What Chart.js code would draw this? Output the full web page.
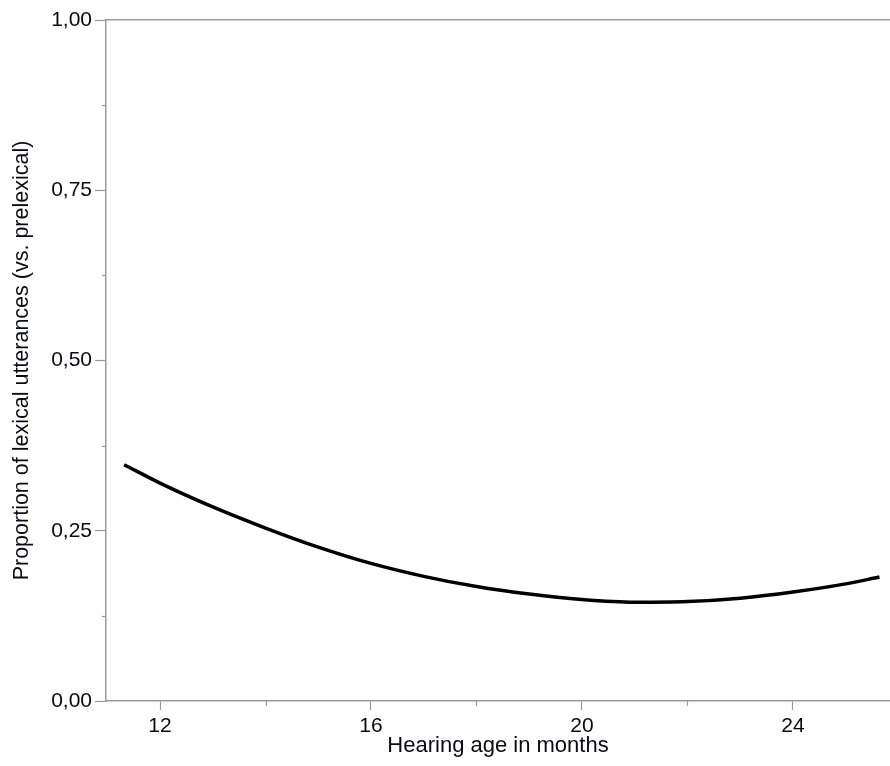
<!DOCTYPE html>
<html><head><meta charset="utf-8">
<script src="https://cdn.jsdelivr.net/npm/chart.js@4"></script>
<style>html,body{margin:0;padding:0;background:#fff}canvas{display:block}</style>
</head><body>
<canvas id="c" width="890" height="766"></canvas>
<script>
// Data
const ages = [11.32, 12, 13, 14, 15, 16, 17, 18, 19, 20, 21, 22, 23, 24, 25, 25.64];
const proportions = [0.347, 0.320, 0.285, 0.254, 0.226, 0.202, 0.183, 0.168, 0.157, 0.149, 0.145, 0.146, 0.151, 0.160, 0.172, 0.182];
const xTickValues = [12, 16, 20, 24];
const xMinorTickValues = [14, 18, 22];
const yTickValues = [0, 0.25, 0.5, 0.75, 1];
const yMinorTickValues = [0.125, 0.375, 0.625, 0.875];
const xTitle = 'Hearing age in months';
const yTitle = 'Proportion of lexical utterances (vs. prelexical)';

const AXIS = '#9a9a9a';
const TEXT = '#0a0a14';
const FONT = 'Liberation Sans, Arial, Helvetica, sans-serif';

const minorTicks = {
  id: 'minorTicks',
  afterDraw(chart) {
    const ctx = chart.ctx, x = chart.scales.x, y = chart.scales.y;
    ctx.save();
    ctx.strokeStyle = AXIS;
    ctx.lineWidth = 1.2;
    xMinorTickValues.forEach(v => {
      const px = Math.round(x.getPixelForValue(v)) + 0.5;
      ctx.beginPath(); ctx.moveTo(px, x.top); ctx.lineTo(px, x.top + 5); ctx.stroke();
    });
    yMinorTickValues.forEach(v => {
      const py = Math.round(y.getPixelForValue(v)) + 0.5;
      ctx.beginPath(); ctx.moveTo(y.right - 4, py); ctx.lineTo(y.right, py); ctx.stroke();
    });
    ctx.restore();
  }
};

new Chart(document.getElementById('c'), {
  type: 'line',
  data: {
    datasets: [{
      data: ages.map((a, i) => ({ x: a, y: proportions[i] })),
      borderColor: '#000',
      borderWidth: 3.5,
      pointRadius: 0,
      tension: 0.4,
      cubicInterpolationMode: 'monotone',
      fill: false
    }]
  },
  options: {
    responsive: false,
    animation: false,
    layout: { padding: 0 },
    plugins: { legend: { display: false }, tooltip: { enabled: false } },
    scales: {
      x: {
        type: 'linear', position: 'bottom', min: 10.976, max: 25.84,
        afterBuildTicks: s => { s.ticks = xTickValues.map(v => ({ value: v })); },
        afterFit: s => { s.height = 65; },
        ticks: { font: { family: FONT, size: 21 }, color: TEXT, maxRotation: 0, padding: 4 },
        grid: { drawOnChartArea: false, drawTicks: true, tickLength: 9, tickColor: AXIS, tickWidth: 1.2 },
        border: { color: AXIS, width: 1.5 },
        title: { display: true, text: xTitle, font: { family: FONT, size: 22 }, color: TEXT, padding: { top: 0, bottom: 7 } }
      },
      xTop: {
        type: 'linear', position: 'top', min: 10.976, max: 25.84,
        afterFit: s => { s.height = 20; },
        ticks: { display: false },
        grid: { display: false, drawTicks: false },
        border: { display: true, color: AXIS, width: 1.5 }
      },
      y: {
        min: 0, max: 1,
        afterBuildTicks: s => { s.ticks = yTickValues.map(v => ({ value: v })); },
        afterFit: s => { s.width = 106; },
        ticks: {
          font: { family: FONT, size: 21 }, color: TEXT, padding: 3,
          callback: v => v.toFixed(2).replace('.', ',')
        },
        grid: { drawOnChartArea: false, drawTicks: true, tickLength: 11, tickColor: AXIS, tickWidth: 1.2 },
        border: { color: AXIS, width: 1.5 },
        title: { display: true, text: yTitle, font: { family: FONT, size: 21.5 }, color: TEXT, padding: { top: 9, bottom: 0 } }
      }
    }
  },
  plugins: [minorTicks]
});
</script>
</body></html>
